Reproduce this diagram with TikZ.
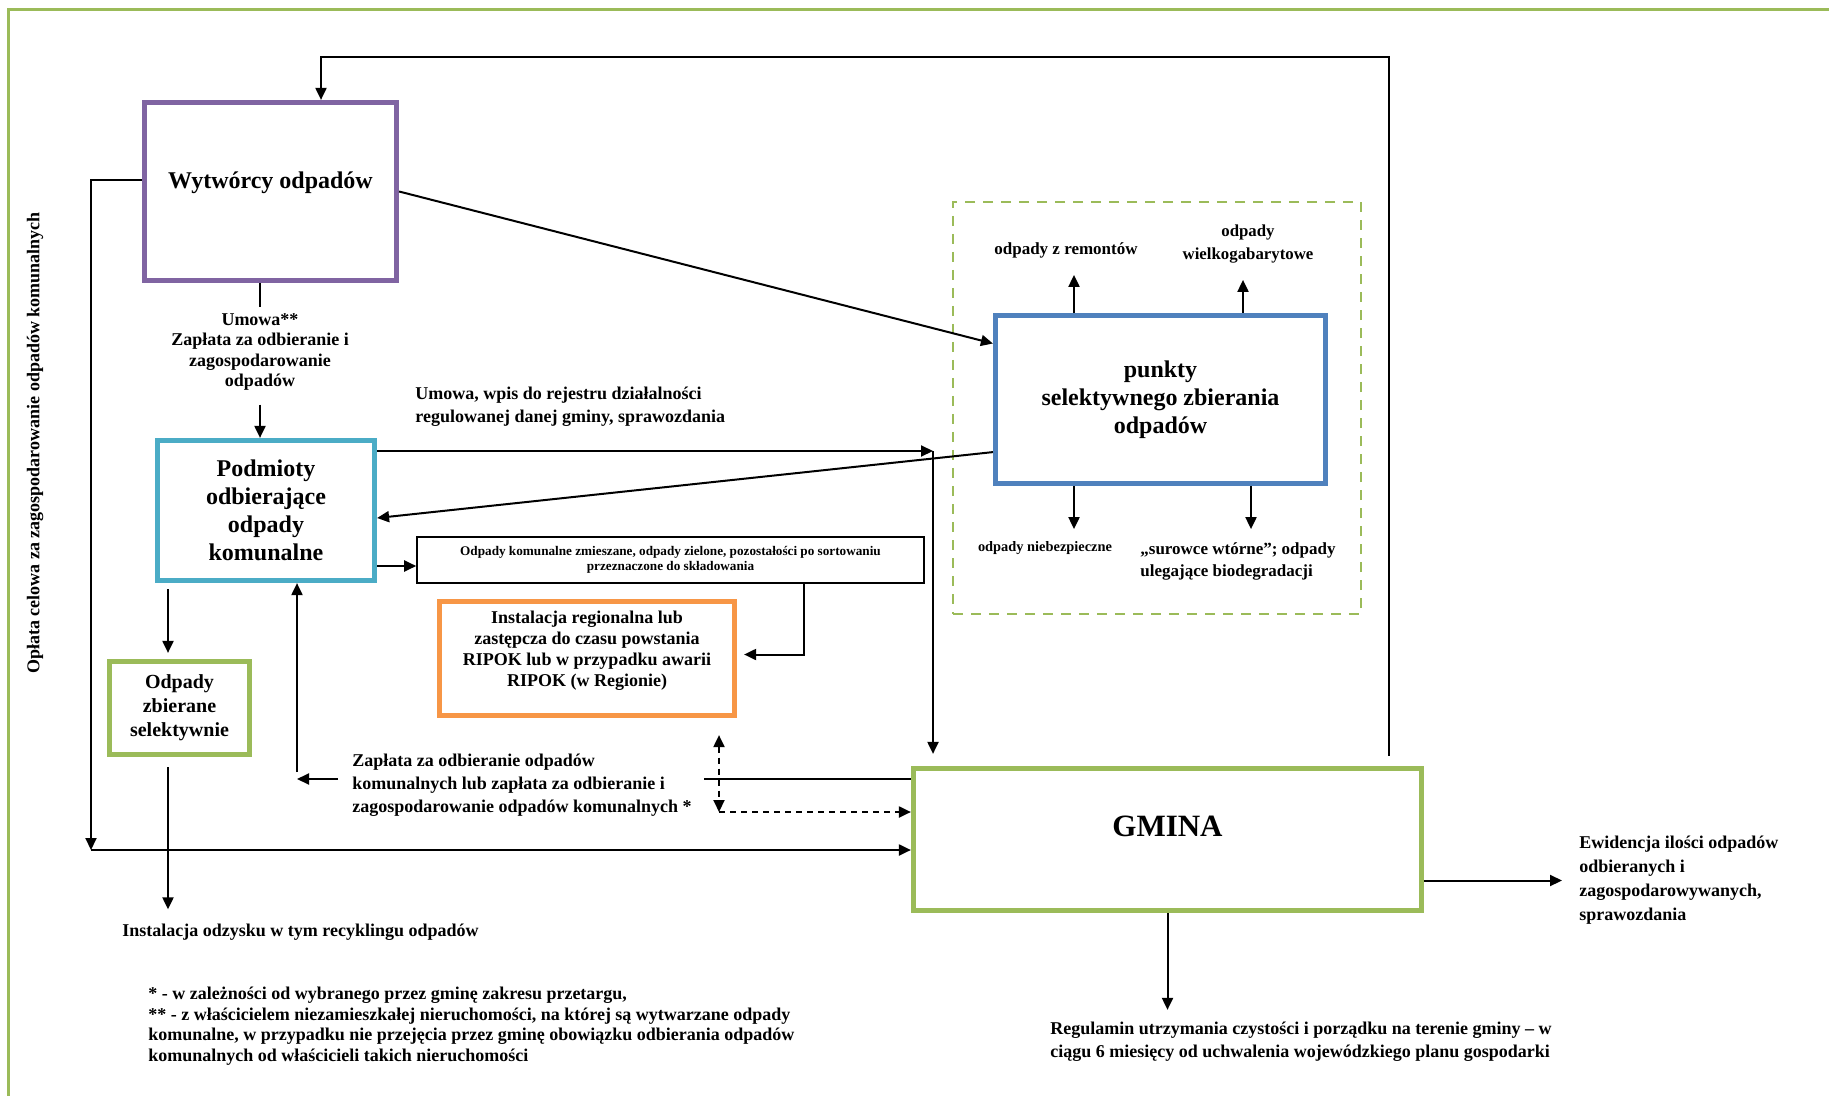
\documentclass[tikz,border=0pt]{standalone}
\usepackage{fontspec}
\setmainfont{Liberation Serif}
\usepackage{tikz}
\usetikzlibrary{arrows.meta, positioning, calc}
\usepackage{xcolor}
\definecolor{purplebox}{HTML}{8064A2}
\definecolor{cyanbox}{HTML}{4BACC6}
\definecolor{bluebox}{HTML}{4F81BD}
\definecolor{greenbox}{HTML}{9BBB59}
\definecolor{orangebox}{HTML}{F79646}
\tikzstyle{unit}     = [rectangle, line width=2.6pt, fill=white, align=center, inner sep=2pt, font=\fontsize{12}{14}\selectfont\bfseries]
\tikzstyle{thinbox}  = [rectangle, draw=black, line width=0.8pt, align=center, inner sep=1pt, font=\fontsize{6.6}{7.5}\selectfont\bfseries]
\tikzstyle{zone}     = [rectangle, draw=greenbox, line width=1pt, dash pattern=on 5pt off 4pt]
\tikzstyle{note}     = [inner sep=3pt, font=\fontsize{9}{11.5}\selectfont\bfseries]
\tikzstyle{link}     = [line width=1pt]
\tikzstyle{arrow}    = [link, -{Triangle[length=6pt,width=5.5pt]}]
\tikzstyle{dasharrow}= [arrow, dash pattern=on 3pt off 2.5pt]
\tikzstyle{dashboth} = [link, dash pattern=on 3pt off 2.5pt, {Triangle[length=6pt,width=5.5pt]}-{Triangle[length=6pt,width=5.5pt]}]

\begin{document}
\begin{tikzpicture}[x=0.5pt, y=-0.5pt, line join=miter]

  \useasboundingbox (0,0) rectangle (1829,1096);
  % page frame
  \draw[greenbox, line width=1.5pt] (8,1096) -- (8,9.5) -- (1829,9.5);

  % Boxes
  \node[zone, minimum width=204pt, minimum height=206pt] (zone) at (1157,408) {};
  \node[unit, draw=purplebox, minimum width=126pt, minimum height=89pt, text depth=11pt] (wyt) at (270.5,191.5) {Wytwórcy odpadów};
  \node[unit, draw=cyanbox, minimum width=108.5pt, minimum height=70pt] (podm) at (266,510.5) {Podmioty\\odbierające\\odpady\\komunalne};
  \node[unit, draw=bluebox, minimum width=165pt, minimum height=84pt] (psz) at (1160.5,399.5) {punkty\\selektywnego zbierania\\odpadów};
  \node[unit, draw=greenbox, minimum width=70pt, minimum height=46.5pt, font=\fontsize{10}{12}\selectfont\bfseries] (sel) at (179.5,708) {Odpady\\zbierane\\selektywnie};
  \node[unit, draw=orangebox, minimum width=147.5pt, minimum height=57pt, text depth=9.5pt, font=\fontsize{9}{10.5}\selectfont\bfseries] (ripok) at (587,658.5) {Instalacja regionalna lub\\zastępcza do czasu powstania\\RIPOK lub w przypadku awarii\\RIPOK (w Regionie)};
  \node[unit, draw=greenbox, minimum width=254pt, minimum height=71pt, text depth=13pt, font=\fontsize{15.5}{18}\selectfont\bfseries] (gmina) at (1167.5,839.5) {GMINA};
  \node[thinbox, minimum width=253.5pt, minimum height=23pt] (zm) at (670.5,560) {Odpady komunalne zmieszane, odpady zielone, pozostałości po sortowaniu\\przeznaczone do składowania};

  % Labels
  \node[note, rotate=90] (oplata) at (35,443) {Opłata celowa za zagospodarowanie odpadów komunalnych};
  \node[note, align=center, font=\fontsize{9}{10.15}\selectfont\bfseries] (umowa) at (260,352) {Umowa**\\Zapłata za odbieranie i\\zagospodarowanie\\odpadów};
  \node[note, anchor=west, align=left] (rejestr) at (409,406.5) {Umowa, wpis do rejestru działalności\\regulowanej danej gminy, sprawozdania};
  \node[note, anchor=west, align=left] (zap) at (346,785) {Zapłata za odbieranie odpadów\\komunalnych lub zapłata za odbieranie i\\zagospodarowanie odpadów komunalnych *};
  \node[note, anchor=west] (recykl) at (116,932) {Instalacja odzysku w tym recyklingu odpadów};
  \node[note, anchor=west, align=left, font=\fontsize{9}{10.25}\selectfont\bfseries] (przyp) at (142,1026) {* - w zależności od wybranego przez gminę zakresu przetargu,\\** - z właścicielem niezamieszkałej nieruchomości, na której są wytwarzane odpady\\komunalne, w przypadku nie przejęcia przez gminę obowiązku odbierania odpadów\\komunalnych od właścicieli takich nieruchomości};
  \node[note, anchor=west, align=left, font=\fontsize{9}{12}\selectfont\bfseries] (ewid) at (1573,880.5) {Ewidencja ilości odpadów\\odbieranych i\\zagospodarowywanych,\\sprawozdania};
  \node[note, anchor=west, align=left] (regul) at (1044,1042) {Regulamin utrzymania czystości i porządku na terenie gminy – w\\ciągu 6 miesięcy od uchwalenia wojewódzkiego planu gospodarki};
  \node[note, font=\fontsize{8.5}{11.5}\selectfont\bfseries] (remont) at (1066,250) {odpady z remontów};
  \node[note, align=center, font=\fontsize{8.4}{11.5}\selectfont\bfseries] (wielko) at (1248,244.5) {odpady\\wielkogabarytowe};
  \node[note, font=\fontsize{7.2}{9}\selectfont\bfseries] (niebezp) at (1045,548) {odpady niebezpieczne};
  \node[note, anchor=west, align=left, font=\fontsize{8.5}{11}\selectfont\bfseries] (surowce) at (1134,561) {„surowce wtórne”; odpady\\ulegające biodegradacji};

  % Helper points
  \coordinate (topr) at (1389,57);
  \coordinate (lft) at (91,850);
  \coordinate (knee) at (933,451);
  \coordinate (payr) at (704,779);
  \coordinate (payl) at (297,779);
  \coordinate (dk) at (719,812);
  \coordinate (selx) at (168,0);
  \coordinate (c1) at (1074,0);
  \coordinate (c2) at (1243,0);
  \coordinate (c3) at (1251,0);

  % Arrows
  \draw[arrow, shorten <=5pt] (gmina.north -| topr) -- (topr) -| ([xshift=25.25pt]wyt.north);
  \draw[arrow] (wyt.east) -- ([yshift=28pt]psz.west);
  \draw[arrow] ([yshift=5.75pt]wyt.west) -| (lft);
  \draw[arrow] (lft) -- (gmina.west |- lft);
  \draw[link] (wyt.south -| umowa) -- (umowa.north);
  \draw[arrow, shorten <=4pt] (umowa.south) -- (umowa.south |- podm.north);
  \draw[arrow] (podm.east |- knee) -- (knee);
  \draw[arrow, shorten >=6pt] (knee) -- (knee |- gmina.north);
  \draw[arrow] ([yshift=17pt]psz.south west) -- ([yshift=-3.75pt]podm.east);
  \draw[arrow] ([yshift=-27.75pt]podm.east) -- ([yshift=-3pt]zm.west);
  \draw[arrow, shorten >=3.5pt] ([xshift=66.75pt]zm.south) |- ([yshift=2pt]ripok.east);
  \draw[dashboth, shorten <=8.5pt] (ripok.south -| dk) -- (dk);
  \draw[dasharrow] (dk) -- (gmina.west |- dk);
  \draw[link] (gmina.west |- payr) -- (payr);
  \draw[arrow, shorten <=4pt] (zap.west |- payl) -- (payl);
  \draw[arrow] ([yshift=3.5pt]payl) -- (podm.south -| payl);
  \draw[arrow, shorten <=3pt, shorten >=3pt] (podm.south -| selx) -- (sel.north -| selx);
  \draw[arrow, shorten <=5pt, shorten >=4pt] (sel.south -| selx) -- (recykl.north -| selx);
  \draw[arrow, shorten >=5.5pt] (gmina.east |- ewid.west) -- (ewid.west);
  \draw[arrow, shorten >=3pt] (gmina.south) -- (gmina.south |- regul.north);
  \draw[arrow] (psz.north -| c1) -- ++(0,-38) coordinate (remtip);
  \draw[arrow] (psz.north -| c2) -- ++(0,-33) coordinate (wielktip);
  \draw[arrow] (psz.south -| c1) -- ++(0,43) coordinate (niebtip);
  \draw[arrow] (psz.south -| c3) -- ++(0,43) coordinate (surtip);

\end{tikzpicture}
\end{document}
